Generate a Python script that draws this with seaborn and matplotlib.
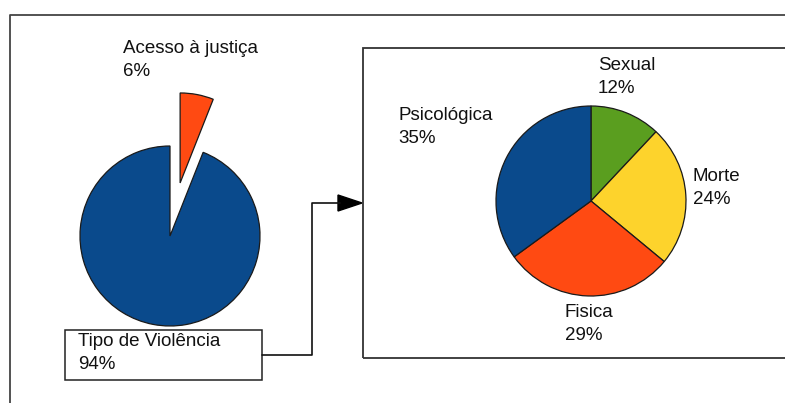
import numpy as np
import matplotlib
matplotlib.use("Agg")
import matplotlib.pyplot as plt
import seaborn as sns
from matplotlib.patches import Rectangle

# dados
geral_labels = ['Acesso à justiça', 'Tipo de Violência']
geral_valores = [6, 94]
tipo_labels = ['Sexual', 'Morte', 'Fisica', 'Psicológica']
tipo_valores = [12, 24, 29, 35]

azul = '#0A4A8C'
vermelho = '#FF4A12'
verde = '#5A9E1F'
amarelo = '#FDD32C'

sns.set_theme(style='white')
plt.rcParams['font.family'] = ['Liberation Sans', 'DejaVu Sans']

W, H = 785, 403
fig = plt.figure(figsize=(W / 100, H / 100), dpi=100)
ax = fig.add_axes([0, 0, 1, 1])

def Y(y):  # coordenada de pixel (de cima) -> eixo
    return H - y

borda = dict(edgecolor='#1a1a1a', linewidth=0.9)
fs = 13.5
ls = 1.45

# moldura externa
ax.plot([10, 10, W + 5], [Y(H + 5), Y(15), Y(15)], color='#444444', lw=1.3)

# pizza geral
ax.pie(geral_valores, colors=[vermelho, azul], startangle=90, counterclock=False,
       explode=[54, 0], center=(170, Y(236)), radius=90, wedgeprops=borda,
       frame=True)

ax.text(123, Y(40), f'{geral_labels[0]}\n{geral_valores[0]}%', fontsize=fs,
        va='top', ha='left', linespacing=ls, color='#111111')

# caixa do Tipo de Violência
ax.add_patch(Rectangle((65, Y(380)), 197, 50, facecolor='white',
                       edgecolor='#222222', lw=1.1))
ax.text(78, Y(333), f'{geral_labels[1]}\n{geral_valores[1]}%', fontsize=fs,
        va='top', ha='left', linespacing=ls, color='#111111')

# conector com seta
ax.plot([262, 312, 312, 340], [Y(355), Y(355), Y(203), Y(203)],
        color='#111111', lw=1.2)
ax.fill([338, 362, 338], [Y(195), Y(203), Y(211)], color='black')

# caixa da direita
ax.add_patch(Rectangle((363, Y(358)), W + 10 - 363, 310, facecolor='none',
                       edgecolor='#333333', lw=1.3))

# pizza por tipo
ax.pie(tipo_valores, colors=[verde, amarelo, vermelho, azul], startangle=90,
       counterclock=False, center=(591, Y(201)), radius=95, wedgeprops=borda,
       frame=True)

pos_labels = [(598, 57), (693, 168), (565, 304), (398, 107)]
for lab, val, (x, y) in zip(tipo_labels, tipo_valores, pos_labels):
    ax.text(x, Y(y), f'{lab}\n{val}%', fontsize=fs, va='top', ha='left',
            linespacing=ls, color='#111111')

ax.set_xlim(0, W)
ax.set_ylim(0, H)
ax.set_aspect('equal')
ax.axis('off')

fig.savefig('out.png', dpi=100)
